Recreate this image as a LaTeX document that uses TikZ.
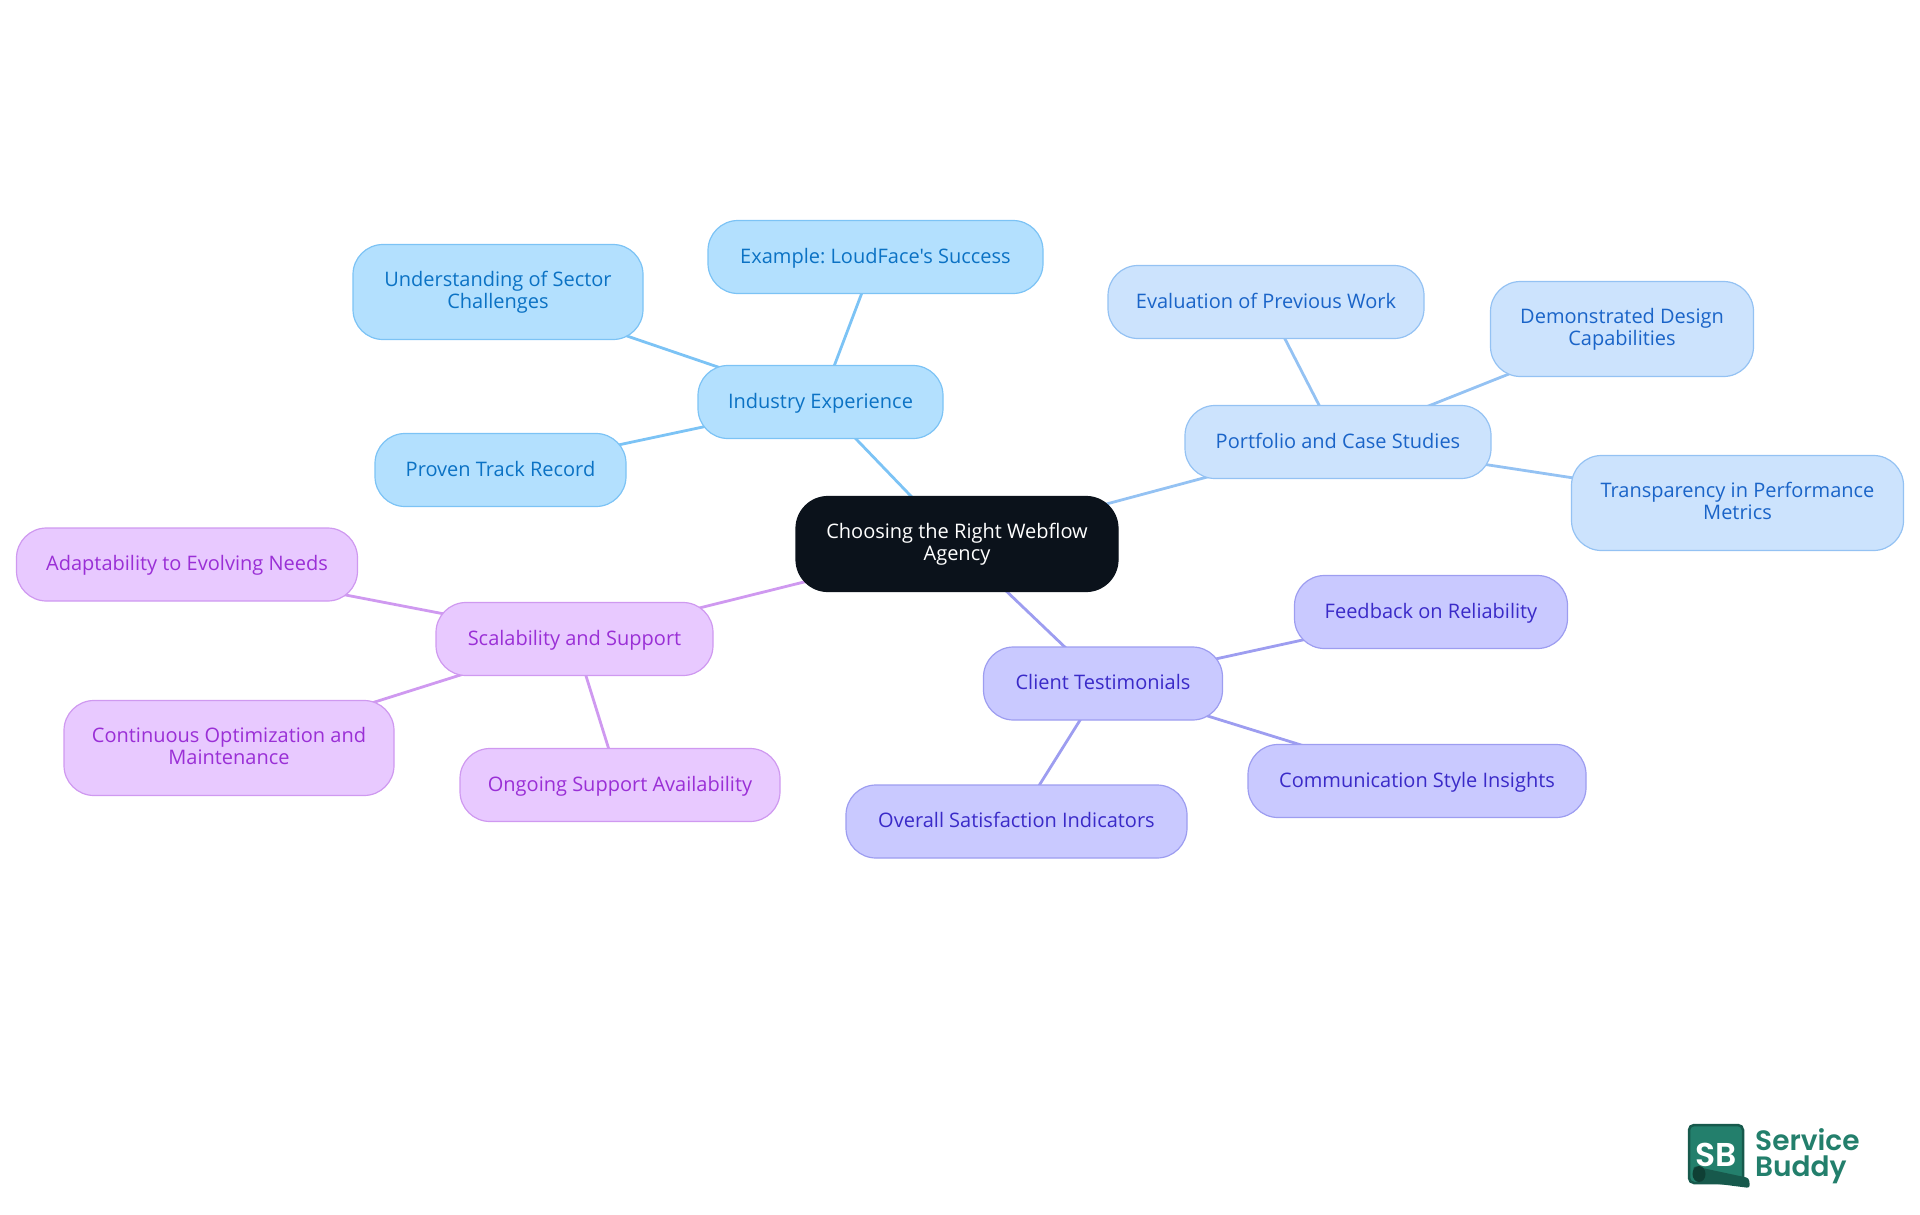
\documentclass[tikz,border=0pt]{standalone}
\usepackage{fontspec}
\newfontfamily\ideafont{Open Sans}
\newfontfamily\logofont{Poppins}[UprightFont=* SemiBold]
\usepackage{tikz}
\usetikzlibrary{backgrounds}
\frenchspacing
\newcommand{\linestrut}{\rule[-5pt]{0pt}{22pt}}
\definecolor{rootfill}{HTML}{0B121B}
\definecolor{skyfill}{HTML}{B3E0FE}
\definecolor{skyline}{HTML}{7CC3F5}
\definecolor{skytext}{HTML}{0B72C4}
\definecolor{bluefill}{HTML}{CCE3FD}
\definecolor{blueline}{HTML}{94C2F3}
\definecolor{bluetext}{HTML}{1A64C8}
\definecolor{indigofill}{HTML}{C9C9FF}
\definecolor{indigoline}{HTML}{9D9DF0}
\definecolor{indigotext}{HTML}{3A2AC8}
\definecolor{purplefill}{HTML}{E8C9FF}
\definecolor{purpleline}{HTML}{CF99F0}
\definecolor{purpletext}{HTML}{9A2FD6}
\definecolor{logolight}{HTML}{237F6C}
\definecolor{logodark}{HTML}{17594C}
\definecolor{logodeep}{HTML}{0F3F35}
\tikzset{
    %Define style for boxes
    idea/.style={
           rectangle,
           rounded corners=30pt,
           line width=1.2pt,
           inner sep=0pt,
           minimum height=73pt,
           align=center,
           execute at begin node=\linestrut,
           execute at end node=\linestrut,
           font=\ideafont\fontsize{20}{22}\selectfont
           },
    root/.style={
           idea,
           rounded corners=32pt,
           draw=rootfill,
           fill=rootfill,
           text=white,
           minimum width=322pt,
           minimum height=95pt
           },
    sky/.style={idea, draw=skyline, fill=skyfill, text=skytext},
    blue/.style={idea, draw=blueline, fill=bluefill, text=bluetext},
    indigo/.style={idea, draw=indigoline, fill=indigofill, text=indigotext},
    purple/.style={idea, draw=purpleline, fill=purplefill, text=purpletext},
    % Define link style
    link/.style={line width=2.8pt}
}
\begin{document}
\begin{tikzpicture}[x=1pt,y=-1pt]
\useasboundingbox (0,0) rectangle (1920,1215);
\node[root](root) at (957,544){Choosing the Right Webflow\\Agency};
% industry
\node[sky,minimum width=245pt](industry) at (820.5,402){Industry Experience};
\node[sky,minimum width=335pt](example) at (875.5,257){Example: LoudFace's Success};
\node[sky,minimum width=290pt,minimum height=95pt](sector) at (498,292){Understanding of Sector\\Challenges};
\node[sky,minimum width=251pt](record) at (500.5,470){Proven Track Record};
% portfolio
\node[blue,minimum width=306pt](portfolio) at (1338,442){Portfolio and Case Studies};
\node[blue,minimum width=316pt](previous) at (1266,302){Evaluation of Previous Work};
\node[blue,minimum width=263pt,minimum height=95pt](design) at (1622,329){Demonstrated Design\\Capabilities};
\node[blue,minimum width=332pt,minimum height=95pt](metrics) at (1737.5,503){Transparency in Performance\\Metrics};
% client
\node[indigo,minimum width=239pt](client) at (1103,683.5){Client Testimonials};
\node[indigo,minimum width=273pt](reliability) at (1431,612){Feedback on Reliability};
\node[indigo,minimum width=338pt](style) at (1417,781){Communication Style Insights};
\node[indigo,minimum width=341pt](overall) at (1016.5,821.5){Overall Satisfaction Indicators};
% scalability
\node[purple,minimum width=277pt](scalability) at (574.5,639){Scalability and Support};
\node[purple,minimum width=341pt](needs) at (187,564.5){Adaptability to Evolving Needs};
\node[purple,minimum width=330pt,minimum height=95pt](maintenance) at (229,748){Continuous Optimization and\\Maintenance};
\node[purple,minimum width=320pt](availability) at (620,785){Ongoing Support Availability};
\begin{scope}[on background layer]
 \path[link,draw=skyline]
    (root.center) edge (industry.center)
    (industry.center) edge (example.center) edge (sector.center) edge (record.center);
 \path[link,draw=blueline]
    (root.center) edge (portfolio.center)
    (portfolio.center) edge (previous.center) edge (design.center) edge (metrics.center);
 \path[link,draw=indigoline]
    (root.center) edge (client.center)
    (client.center) edge (reliability.center) edge (style.center) edge (overall.center);
 \path[link,draw=purpleline]
    (root.center) edge (scalability.center)
    (scalability.center) edge (needs.center) edge (maintenance.center) edge (availability.center);
\end{scope}
% logo
\draw[logodark,fill=logolight,line width=2.5pt,rounded corners=5pt] (1689,1125) rectangle (1743,1183);
\node[text=white,inner sep=0pt,font=\logofont\fontsize{33}{33}\selectfont](logomark) at (1716,1155){SB};
\fill[logodark,rounded corners=3pt] (1693,1166) -- (1749,1178) -- (1750,1188) -- (1695,1181) -- cycle;
\fill[logodeep] (1699,1174) ellipse (6.5pt and 8pt);
\node[text=logolight,inner sep=0pt,anchor=west,font=\logofont\fontsize{28}{30}\selectfont](logotop) at (1755,1140){Service};
\node[text=logolight,inner sep=0pt,anchor=west,font=\logofont\fontsize{28}{30}\selectfont](logobottom) at (1755,1170){Buddy};
\end{tikzpicture}
\end{document}
